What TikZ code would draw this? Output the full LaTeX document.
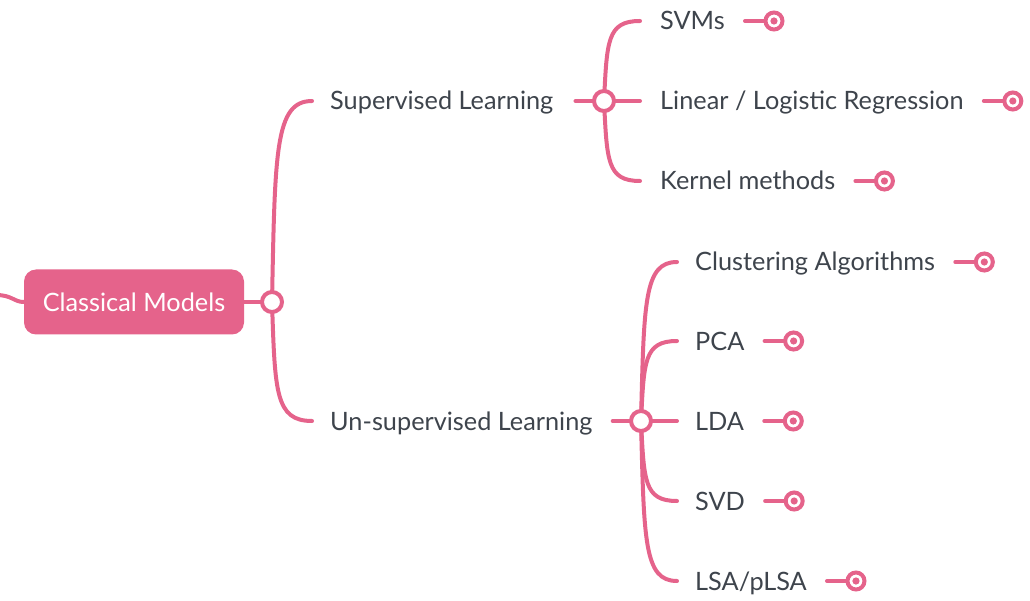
\documentclass[tikz,border=0pt]{standalone}
\usepackage{fontspec}
\setmainfont{Lato}
\usetikzlibrary{calc}

\definecolor{mmpink}{RGB}{229,99,139}
\definecolor{mmtext}{RGB}{62,68,76}

% curved branch from a joint to the start of a topic
\newcommand{\branch}[2]{%
  \draw[link] let \p1=(#1), \p2=(#2) in
    (\p1) .. controls (\x1+3pt,{\y1+0.75*(\y2-\y1)}) and (\x1+3pt,\y2) .. (\p2);}

\begin{document}
\begin{tikzpicture}[x=1pt,y=-1pt]
\tikzstyle{every node}=[font=\fontsize{25.3}{30}\selectfont]
\tikzstyle{topic}=[anchor=west,inner sep=0pt,text=mmtext,text height=19pt,text depth=1pt]
\tikzstyle{link}=[draw=mmpink,line width=4pt,line cap=round]
\tikzstyle{joint}=[circle,draw=mmpink,fill=white,line width=4pt,minimum size=20pt,inner sep=0pt]
\tikzstyle{tip}=[joint,minimum size=17pt]
\tikzstyle{central}=[rounded corners=12pt,fill=mmpink,text=white,minimum width=220pt,minimum height=65pt]

\useasboundingbox (0,0) rectangle (1030,601);

% root topic
\node[central] (root) at (134,302) {Classical Models};
\draw[link] (-4,295) .. controls (12,295) and (14,302) .. (root.west);

% topics
\node[topic] (sup) at (330,101) {Supervised Learning};
\node[topic] (unsup) at (330,421) {Un-supervised Learning};

\node[topic] (svm) at (660,21) {SVMs};
\node[topic] (linreg) at (660,101) {Linear / Logistic Regression};
\node[topic] (kernel) at (660,181) {Kernel methods};

\node[topic] (clust) at (695,262) {Clustering Algorithms};
\node[topic] (pca) at (695,341) {PCA};
\node[topic] (lda) at (695,421) {LDA};
\node[topic] (svd) at (695,501) {SVD};
\node[topic] (lsa) at (695,581) {LSA/pLSA};

% joints
\coordinate (jroot) at (272,302);
\coordinate (jsup) at (604,101);
\coordinate (junsup) at (641,421);

\draw[link] (root.east) -- (jroot);
\branch{jroot}{$(sup.west)+(-18,0)$}
\branch{jroot}{$(unsup.west)+(-18,0)$}

\draw[link] ($(sup.east)+(22,0)$) -- (jsup) -- ($(linreg.west)+(-20,0)$);
\branch{jsup}{$(svm.west)+(-20,0)$}
\branch{jsup}{$(kernel.west)+(-20,0)$}

\draw[link] ($(unsup.east)+(20,0)$) -- (junsup) -- ($(lda.west)+(-18,0)$);
\foreach \t in {clust,pca,svd,lsa} {
  \branch{junsup}{$(\t.west)+(-18,0)$}
}

\node[joint] at (jroot) {};
\node[joint] at (jsup) {};
\node[joint] at (junsup) {};

% leaf ends
\foreach \t in {svm,linreg,kernel,clust,pca,lda,svd,lsa} {
  \draw[link] ($(\t.east)+(20,0)$) -- ($(\t.east)+(40,0)$);
  \node[tip] (\t end) at ($(\t.east)+(49,0)$) {};
  \fill[mmpink] (\t end) circle (3.6);
}
\end{tikzpicture}
\end{document}
